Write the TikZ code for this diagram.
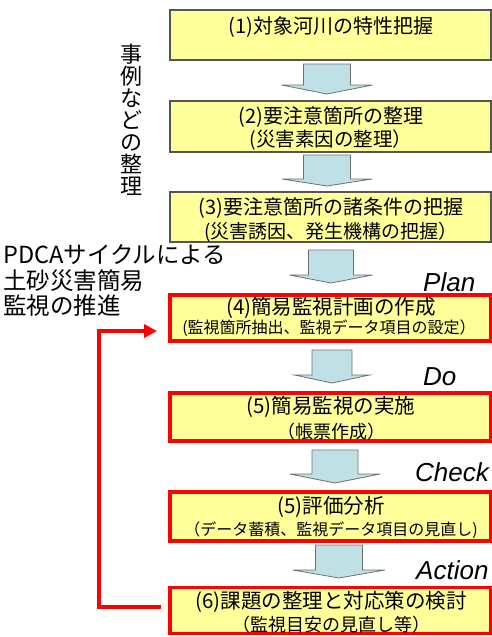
\documentclass[tikz,border=0pt]{standalone}
\usepackage{fontspec}
\newfontfamily\jp{Noto Sans CJK JP}
\newfontfamily\lab{Liberation Sans}
\usetikzlibrary{arrows.meta,calc}
\definecolor{boxfill}{HTML}{FFFF99}
\definecolor{boxgray}{HTML}{555555}
\definecolor{arrfill}{HTML}{BFE1E5}
\definecolor{arrline}{HTML}{707070}
\definecolor{pdcared}{HTML}{FF0000}
\newcommand\dnarrow[6]{%
  \draw[blockarr] (#1-#5,#2) -- (#1+#5,#2) -- (#1+#5,#3) -- (#1+#6,#3) -- (#1,#4) -- (#1-#6,#3) -- (#1-#5,#3) -- cycle;}
\begin{document}
\begin{tikzpicture}[x=1pt,y=-1pt,
  box/.style={draw=boxgray, line width=1.1pt, fill=boxfill, minimum width=321pt, inner sep=0pt, outer sep=0pt},
  redbox/.style={box, draw=pdcared, line width=3.5pt},
  txt/.style={inner sep=0pt, font=\jp\fontsize{#1}{#1}\selectfont},
  pdca/.style={inner sep=0pt, anchor=west, font=\lab\itshape\fontsize{26}{26}\selectfont},
  blockarr/.style={draw=arrline, line width=0.8pt, fill=arrfill, line join=miter},
  conn/.style={draw=pdcared, line width=4pt, line join=miter}
]
\useasboundingbox (0,0) rectangle (492,637);

% boxes
\node[box, minimum height=50pt] (b1) at (330.5,35) {};
\node[box, minimum height=51pt] (b2) at (330.5,126.5) {};
\node[box, minimum height=50pt] (b3) at (330.5,217) {};
\node[redbox, minimum height=46pt] (b4) at (330.5,318) {};
\node[redbox, minimum height=48pt] (b5) at (330.5,417) {};
\node[redbox, minimum height=49pt] (b6) at (330.5,516.5) {};
\node[redbox, minimum height=46pt] (b7) at (330.5,610.5) {};

% box texts
\node[txt=20] (t1) at (331,27) {(1)対象河川の特性把握};
\node[txt=20] (t2a) at (331,117) {(2)要注意箇所の整理};
\node[txt=19.5] (t2b) at (331,140) {(災害素因の整理）};
\node[txt=20] (t3a) at (331,208) {(3)要注意箇所の諸条件の把握};
\node[txt=19] (t3b) at (331,232) {(災害誘因、発生機構の把握）};
\node[txt=20.5] (t4a) at (331,308) {(4)簡易監視計画の作成};
\node[txt=16] (t4b) at (329,328) {(監視箇所抽出、監視データ項目の設定）};
\node[txt=20.5] (t5a) at (331,407) {(5)簡易監視の実施};
\node[txt=18] (t5b) at (331,432) {（帳票作成）};
\node[txt=20.5] (t6a) at (331,507) {(5)評価分析};
\node[txt=16] (t6b) at (331,530) {（データ蓄積、監視データ項目の見直し)};
\node[txt=20.5] (t7a) at (331,602) {(6)課題の整理と対応策の検討};
\node[txt=18] (t7b) at (331,625) {（監視目安の見直し等）};

% block arrows
\dnarrow{327}{64}{85}{94}{23.5}{45.5}
\dnarrow{327}{155}{179}{186}{23.5}{45}
\dnarrow{331}{250}{275}{283}{22.5}{41.5}
\dnarrow{332}{350}{375}{383}{20}{37.5}
\dnarrow{335}{450}{474}{483}{23}{45}
\dnarrow{339}{545}{570}{578}{23.5}{46}

% PDCA labels
\node[pdca] (lp) at (423,282) {Plan};
\node[pdca] (ld) at (423,377) {Do};
\node[pdca] (lc) at (415,472) {Check};
\node[pdca] (la) at (416,570) {Action};

% left texts
\node[inner sep=0pt, align=center, font=\jp\fontsize{22}{22}\selectfont] (vt) at (131,120)
  {事\\例\\な\\ど\\の\\整\\理};
\node[inner sep=0pt, anchor=west, font=\jp\fontsize{23.5}{23.5}\selectfont] (p1) at (3,255) {PDCAサイクルによる};
\node[inner sep=0pt, anchor=west, font=\jp\fontsize{23.5}{23.5}\selectfont] (p2) at (3,281) {土砂災害簡易};
\node[inner sep=0pt, anchor=west, font=\jp\fontsize{23.5}{23.5}\selectfont] (p3) at (3,306) {監視の推進};

% feedback connector
\draw[conn, shorten <=9pt, -{Triangle[length=13pt,width=13pt]}, shorten >=13pt]
  ([yshift=3.5pt]b7.west) -- ++(-71,0) |- ([yshift=-13pt]b4.west);
\end{tikzpicture}
\end{document}
